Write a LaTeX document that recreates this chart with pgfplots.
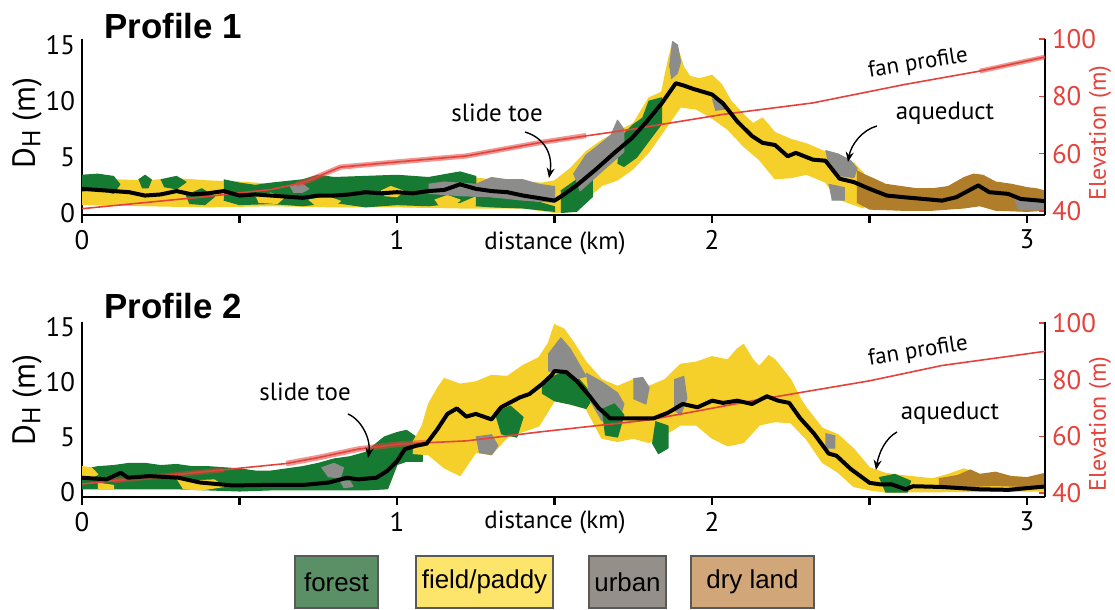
\documentclass[border=0pt]{standalone}
\usepackage{fontspec}
\setmainfont{PT Sans}
\newfontfamily\arial{Liberation Sans}
\usepackage{pgfplots}
\pgfplotsset{compat=1.18}
\usetikzlibrary{arrows.meta}
\definecolor{cgreen}{HTML}{177A32}
\definecolor{cyellow}{HTML}{F6D02A}
\definecolor{cgrey}{HTML}{8C8C8A}
\definecolor{cbrown}{HTML}{B07E2A}
\definecolor{cred}{HTML}{E5423B}
\definecolor{lgreen}{HTML}{5B8F66}
\definecolor{lyellow}{HTML}{FDE46B}
\definecolor{lgrey}{HTML}{948F89}
\definecolor{lbrown}{HTML}{D1A77A}
\pgfplotsset{
  base/.style={scale only axis, width=481.5bp, height=88bp, xmin=0, xmax=3.057, anchor=south west},
  dh/.style={axis x line*=bottom, axis y line*=left,
    x axis line style={-, line width=1.4bp, black}, y axis line style={-, line width=1.4bp, black},
    xtick={0,0.5,...,3}, xticklabels={0,,1,,2,,3}, xtick align=outside,
    major tick length=4bp, xtick style={line width=1.3bp, black},
    ytick={0,5,10,15}, ytick style={draw=none},
    ticklabel style={font=\fontsize{13.5}{13.5}\selectfont},
    /pgf/number format/assume math mode=true},
  elev/.style={axis x line=none, axis y line*=right,
    y axis line style={-, line width=1.4bp, black},
    ytick={40,60,80,100}, ytick align=inside, major tick length=3bp,
    ytick style={cred, line width=0.8bp},
    yticklabel style={cred, font=\fontsize{13.5}{13.5}\selectfont},
    /pgf/number format/assume math mode=true},
  blk/.style={axis lines=none},
  sc/.style={draw=#1, fill=#1, line width=0.6bp, line join=round},
}
\begin{document}
\begin{tikzpicture}
\path[use as bounding box] (0,0) rectangle (557.5bp,305bp);
% ================= PROFILE 1 =================
\begin{axis}[base, dh, at={(41bp,197.5bp)}, ymin=-0.13, ymax=15.54]
% yellow base
\addplot[sc=cyellow] coordinates {(0,3.0)(0.1,3.0)(0.2,2.9)(0.3,3.1)(0.4,2.9)(0.5,2.8)(0.6,2.6)(0.7,2.8)(0.8,3.0)(0.9,3.0)(1.0,3.0)(1.1,3.0)(1.2,3.3)(1.3,3.0)(1.4,2.8)(1.46,2.7)(1.5,2.9)(1.55,4.0)(1.6,5.5)(1.65,6.5)(1.7,7.3)(1.75,8.0)(1.8,10.3)(1.84,10.8)(1.86,13.5)(1.875,15.2)(1.89,14.8)(1.91,13.0)(1.93,12.2)(1.96,12.0)(2.0,12.3)(2.03,11.5)(2.06,10.0)(2.1,8.8)(2.13,8.0)(2.16,8.5)(2.2,7.2)(2.25,6.6)(2.3,6.2)(2.35,5.6)(2.4,5.0)(2.45,4.5)(2.48,3.6)
(2.48,0.5)(2.45,0.8)(2.4,1.3)(2.36,2.8)(2.3,3.5)(2.25,3.2)(2.2,3.1)(2.15,4.8)(2.1,6.0)(2.05,7.5)(2.0,8.5)(1.95,9.3)(1.9,9.5)(1.85,7.5)(1.8,5.5)(1.75,4.0)(1.7,3.0)(1.65,2.5)(1.6,1.3)(1.55,0.2)(1.5,0.1)(1.4,0.5)(1.2,0.5)(1.0,0.6)(0.8,0.6)(0.6,0.7)(0.4,0.6)(0.2,0.7)(0,0.8)};
% green
\addplot[sc=cgreen] coordinates {(0,3.4)(0.05,3.5)(0.1,3.3)(0.12,2.6)(0.1,1.8)(0.05,2.2)(0,2.0)};
\addplot[sc=cgreen] coordinates {(0.18,3.0)(0.2,3.4)(0.22,3.0)(0.21,2.3)(0.19,2.3)};
\addplot[sc=cgreen] coordinates {(0.25,3.0)(0.3,3.3)(0.33,2.8)(0.3,2.2)(0.26,2.4)};
\addplot[sc=cgreen] coordinates {(0.33,1.6)(0.38,2.2)(0.42,1.5)(0.39,0.8)(0.34,0.9)};
\addplot[sc=cgreen] coordinates {(0.45,3.0)(0.5,2.7)(0.55,2.5)(0.6,2.7)(0.7,3.0)(0.75,3.4)(0.8,3.2)(0.9,3.3)(1.0,3.4)(1.1,3.2)(1.2,3.7)(1.25,3.3)(1.25,1.6)(1.2,1.0)(1.1,0.7)(1.0,0.8)(0.9,0.6)(0.8,1.0)(0.7,0.7)(0.6,0.9)(0.5,0.8)(0.45,1.2)};
\addplot[sc=cgreen] coordinates {(1.25,1.5)(1.35,1.3)(1.45,1.0)(1.5,0.6)(1.5,0.2)(1.4,0.5)(1.3,0.6)(1.25,0.7)};
\addplot[sc=cgreen] coordinates {(1.52,2.0)(1.57,3.0)(1.62,3.5)(1.62,1.5)(1.57,0.2)(1.52,0.1)};
\addplot[sc=cgreen] coordinates {(1.7,6.5)(1.75,7.9)(1.78,8.5)(1.8,10.0)(1.84,10.3)(1.84,8.0)(1.8,6.5)(1.76,5.0)(1.72,4.2)(1.7,4.5)};
% yellow flecks
\addplot[sc=cyellow] coordinates {(0.55,1.6)(0.6,1.8)(0.64,1.4)(0.62,0.9)(0.56,1.0)};
\addplot[sc=cyellow] coordinates {(0.72,1.2)(0.78,1.5)(0.82,1.1)(0.8,0.7)(0.74,0.7)};
\addplot[sc=cyellow] coordinates {(0.95,2.0)(0.98,2.4)(1.02,2.0)(1.0,1.5)(0.96,1.6)};
\addplot[sc=cyellow] coordinates {(1.12,1.2)(1.16,1.6)(1.2,1.2)(1.18,0.7)(1.13,0.8)};
% grey
\addplot[sc=cgrey] coordinates {(0.66,2.4)(0.7,2.6)(0.72,2.2)(0.7,1.9)(0.67,1.9)};
\addplot[sc=cgrey] coordinates {(1.1,2.6)(1.15,2.8)(1.25,2.6)(1.3,3.2)(1.35,3.0)(1.4,3.0)(1.45,2.6)(1.5,2.4)(1.5,1.0)(1.4,1.2)(1.3,1.5)(1.2,1.6)(1.1,1.8)};
\addplot[sc=cgrey] coordinates {(1.56,3.5)(1.6,5.2)(1.65,6.3)(1.68,7.0)(1.7,8.3)(1.72,7.5)(1.72,5.5)(1.68,4.5)(1.62,3.0)(1.58,2.0)};
\addplot[sc=cgrey] coordinates {(1.865,13.0)(1.875,15.3)(1.89,15.0)(1.9,13.5)(1.89,12.5)(1.87,12.0)};
\addplot[sc=cgrey] coordinates {(2.0,10.2)(2.03,10.0)(2.04,9.3)(2.01,9.2)};
\addplot[sc=cgrey] coordinates {(2.36,5.6)(2.4,5.3)(2.44,4.7)(2.46,4.0)(2.45,3.2)(2.4,3.4)(2.37,4.3)};
\addplot[sc=cgrey] coordinates {(2.37,2.6)(2.42,2.3)(2.42,1.2)(2.38,1.2)};
% brown
\addplot[sc=cbrown] coordinates {(2.46,3.8)(2.48,3.5)(2.52,3.0)(2.55,2.6)(2.6,2.4)(2.65,2.2)(2.7,2.2)(2.75,2.4)(2.8,3.2)(2.83,3.5)(2.86,3.4)(2.9,2.8)(2.95,2.6)(3.0,2.3)(3.03,2.2)(3.057,2.0)(3.057,0.3)(3.0,0.2)(2.9,0.3)(2.85,0.7)(2.8,0.5)(2.7,0.3)(2.6,0.3)(2.5,0.4)(2.46,1.0)};
\addplot[sc=cgrey] coordinates {(2.96,1.3)(3.057,1.2)(3.057,0.3)(2.97,0.4)};
\end{axis}
\begin{axis}[base, elev, at={(41bp,197.5bp)}, ymin=38.6, ymax=100]
\addplot[cred, line width=2.6bp, opacity=0.55] coordinates {(0.68,49.3)(0.705,50.0)(0.82,55.3)(0.99,57.0)(1.22,59.2)(1.456,63.9)(1.6,66.3)};
\addplot[cred, line width=2.4bp, opacity=0.55] coordinates {(2.85,88.8)(3.057,93.7)};
\addplot[cred, line width=0.8bp] coordinates {(0,40.8)(0.375,44.8)(0.6,47.5)(0.705,50.0)(0.82,55.3)(0.99,57.0)(1.22,59.2)(1.456,63.9)(1.745,68.5)(2.035,73.7)(2.32,77.7)(2.61,84.1)(2.845,88.7)(3.057,93.7)};
\end{axis}
\begin{axis}[base, blk, at={(41bp,197.5bp)}, ymin=-0.13, ymax=15.54]
\addplot[black, line width=2bp, line join=round] coordinates {(0,2.2)(0.05,2.1)(0.1,2.0)(0.15,1.9)(0.2,1.6)(0.25,1.7)(0.3,2.0)(0.35,1.7)(0.4,1.8)(0.45,2.0)(0.5,1.6)(0.55,1.7)(0.6,1.6)(0.65,1.5)(0.7,1.4)(0.75,1.6)(0.8,1.6)(0.85,1.7)(0.9,1.9)(0.95,1.8)(1.0,1.9)(1.05,1.8)(1.1,2.0)(1.15,2.1)(1.2,2.6)(1.25,2.2)(1.3,2.0)(1.35,1.9)(1.4,1.6)(1.456,1.35)(1.5,1.15)(1.525,1.6)(1.57,2.5)(1.63,3.9)(1.69,5.4)(1.745,6.7)(1.79,8.1)(1.84,9.8)(1.885,11.6)(1.91,11.4)(1.94,11.1)(2.0,10.6)(2.035,9.8)(2.08,8.2)(2.127,6.9)(2.16,6.3)(2.2,6.1)(2.24,5.1)(2.266,5.4)(2.32,4.8)(2.36,4.7)(2.405,3.1)(2.45,2.8)(2.5,2.2)(2.555,1.6)(2.61,1.45)(2.67,1.3)(2.73,1.15)(2.775,1.45)(2.845,2.5)(2.88,1.9)(2.94,1.75)(2.98,1.3)(3.04,1.15)(3.057,1.1)};
\end{axis}
% ================= PROFILE 2 =================
\begin{axis}[base, dh, at={(41bp,56.5bp)}, height=87.5bp, ymin=-0.45, ymax=15.45]
\addplot[sc=cgreen] coordinates {(0,2.0)(0.05,2.3)(0.1,2.4)(0.15,2.6)(0.2,2.6)(0.25,2.4)(0.3,2.5)(0.35,2.3)(0.4,2.3)(0.45,2.2)(0.5,2.1)(0.55,1.9)(0.6,1.9)(0.65,2.1)(0.7,2.3)(0.75,2.6)(0.8,3.0)(0.85,3.2)(0.9,3.6)(0.93,4.3)(0.96,5.0)(1.0,5.4)(1.03,5.6)(1.06,5.0)(1.08,4.4)(1.08,2.8)(1.03,2.8)(1.0,2.5)(0.97,0.3)(0.9,0.2)(0.8,0.2)(0.7,0.2)(0.6,0.2)(0.5,0.1)(0.4,0.2)(0.3,0.3)(0.2,0.3)(0.1,0.3)(0,0.3)};
\addplot[sc=cyellow] coordinates {(0,2.3)(0.03,2.2)(0.05,1.6)(0.02,1.2)(0,1.3)};
\addplot[sc=cyellow] coordinates {(0.3,1.2)(0.35,1.0)(0.42,1.1)(0.45,0.5)(0.38,0.2)(0.32,0.3)};
\addplot[sc=cyellow] coordinates {(0.05,0.8)(0.1,0.6)(0.1,0.3)(0.05,0.3)};
\addplot[sc=cgrey] coordinates {(0.76,2.2)(0.8,2.6)(0.83,2.2)(0.82,1.3)(0.78,1.4)};
\addplot[sc=cgrey] coordinates {(0.82,0.9)(0.85,1.0)(0.86,0.5)(0.83,0.4)};
\addplot[sc=cyellow] coordinates {(1.05,4.5)(1.08,6.0)(1.1,8.0)(1.13,9.5)(1.15,10.3)(1.2,9.8)(1.25,10.0)(1.3,10.6)(1.35,10.5)(1.4,11.5)(1.45,12.2)(1.48,13.5)(1.5,15.2)(1.53,14.8)(1.56,13.6)(1.6,11.8)(1.65,10.2)(1.7,9.6)(1.75,10.2)(1.8,9.6)(1.85,10.2)(1.9,11.6)(1.95,11.8)(2.0,12.3)(2.05,12.0)(2.08,13.0)(2.1,13.4)(2.13,12.0)(2.15,11.4)(2.18,12.4)(2.2,12.0)(2.25,10.2)(2.28,8.5)(2.3,7.6)(2.35,5.8)(2.4,5.2)(2.45,3.9)(2.5,2.2)(2.55,1.7)(2.6,1.5)(2.7,1.2)(2.75,1.6)(2.8,2.1)(2.85,1.6)(2.9,1.5)(3.0,1.3)(3.057,1.6)(3.057,0.1)(2.55,0)(2.5,0.2)(2.45,0.5)(2.4,1.8)(2.35,2.7)(2.3,4.8)(2.25,6.3)(2.2,6.4)(2.15,6.1)(2.1,4.5)(2.05,4.2)(2.0,4.9)(1.95,6.1)(1.9,6.1)(1.85,5.2)(1.8,4.5)(1.75,4.9)(1.7,4.6)(1.65,4.9)(1.6,7.6)(1.55,8.0)(1.5,8.3)(1.45,6.0)(1.4,5.5)(1.35,5.0)(1.3,3.4)(1.25,3.6)(1.2,1.5)(1.15,2.2)(1.1,3.4)(1.05,3.5)};
\addplot[sc=cgrey] coordinates {(1.25,5.0)(1.3,5.2)(1.32,4.2)(1.3,3.4)(1.26,3.6)};
\addplot[sc=cgreen] coordinates {(1.31,7.2)(1.36,7.8)(1.4,6.8)(1.38,5.0)(1.33,5.3)};
\addplot[sc=cgreen] coordinates {(1.46,10.0)(1.52,10.8)(1.57,10.5)(1.6,9.5)(1.62,8.5)(1.6,7.6)(1.55,8.0)(1.5,8.3)(1.46,9.0)};
\addplot[sc=cgrey] coordinates {(1.48,12.5)(1.52,14.0)(1.55,13.0)(1.58,11.5)(1.6,10.5)(1.57,10.3)(1.52,11.0)(1.48,11.0)};
\addplot[sc=cgrey] coordinates {(1.6,10.8)(1.65,10.0)(1.7,9.0)(1.72,8.0)(1.7,6.0)(1.65,6.5)(1.61,8.5)};
\addplot[sc=cgreen] coordinates {(1.65,7.5)(1.69,8.0)(1.72,7.0)(1.7,5.0)(1.66,5.2)};
\addplot[sc=cgrey] coordinates {(1.75,10.3)(1.78,10.4)(1.8,9.5)(1.79,8.0)(1.75,8.5)};
\addplot[sc=cgreen] coordinates {(1.82,6.4)(1.86,6.0)(1.86,4.0)(1.83,3.5)(1.81,4.5)};
\addplot[sc=cgrey] coordinates {(1.88,10.2)(1.91,10.5)(1.92,8.5)(1.9,7.0)(1.88,7.5)};
\addplot[sc=cgrey] coordinates {(2.36,5.3)(2.39,5.1)(2.39,4.0)(2.36,4.0)};
\addplot[sc=cgreen] coordinates {(2.53,1.3)(2.58,1.6)(2.63,1.0)(2.62,0)(2.55,0)};
\addplot[sc=cbrown] coordinates {(2.72,1.2)(2.78,1.5)(2.82,2.0)(2.85,1.6)(2.9,1.8)(2.95,1.4)(3.0,1.3)(3.057,1.7)(3.057,0.6)(3.0,0.5)(2.9,0.6)(2.8,0.5)(2.72,0.4)};
\end{axis}
\begin{axis}[base, elev, at={(41bp,56.5bp)}, height=87.5bp, ymin=38.6, ymax=100.35]
\addplot[cred, line width=2.4bp, opacity=0.5] coordinates {(0.1,44.3)(0.306,46.6)(0.45,48.2)};
\addplot[cred, line width=2.8bp, opacity=0.55] coordinates {(0.648,50.4)(0.75,52.5)(0.877,55.5)(1.01,57.3)(1.1,57.8)};
\addplot[cred, line width=0.8bp] coordinates {(0,43.2)(0.306,46.6)(0.648,50.4)(0.75,52.5)(0.877,55.5)(1.01,57.3)(1.22,58.4)(1.456,61.6)(1.8,65.8)(2.15,73.0)(2.5,79.6)(2.73,85.0)(3.057,90.0)};
\end{axis}
\begin{axis}[base, blk, at={(41bp,56.5bp)}, height=87.5bp, ymin=-0.45, ymax=15.45]
\addplot[black, line width=2bp, line join=round] coordinates {(0,1.3)(0.078,1.15)(0.123,1.75)(0.146,1.3)(0.215,1.45)(0.306,1.3)(0.374,0.87)(0.477,0.6)(0.59,0.65)(0.705,0.65)(0.785,0.87)(0.84,1.3)(0.877,1.15)(0.934,1.3)(0.968,1.9)(1.0,2.8)(1.025,3.9)(1.06,4.2)(1.094,4.4)(1.128,5.7)(1.16,7.1)(1.19,7.6)(1.22,6.85)(1.25,7.1)(1.3,6.6)(1.33,7.7)(1.39,8.6)(1.42,8.9)(1.46,9.8)(1.49,10.6)(1.5,11.0)(1.537,10.9)(1.57,10.1)(1.606,8.9)(1.64,7.65)(1.676,6.7)(1.71,6.7)(1.757,6.7)(1.815,6.7)(1.86,7.2)(1.907,8.0)(1.954,7.7)(2.0,8.3)(2.035,8.1)(2.08,8.3)(2.127,8.0)(2.174,8.7)(2.21,8.3)(2.245,8.1)(2.28,6.7)(2.324,5.3)(2.37,3.5)(2.395,3.3)(2.44,2.1)(2.5,0.84)(2.533,0.7)(2.57,0.7)(2.615,0.25)(2.638,0.53)(2.73,0.46)(2.85,0.25)(2.94,0.2)(3.04,0.46)(3.057,0.5)};
\end{axis}
% ================= ANNOTATIONS =================
\begin{scope}[yshift=305bp, x=0.5bp, y=-0.5bp]
\node[font=\arial\bfseries\fontsize{17.5}{17.5}\selectfont, anchor=west, inner sep=0] at (104,26) {Profile 1};
\node[font=\arial\bfseries\fontsize{17.5}{17.5}\selectfont, anchor=west, inner sep=0] at (104,306) {Profile 2};
\node[rotate=90, font=\fontsize{16}{16}\selectfont] at (27,123) {D\raisebox{-0.35ex}{\fontsize{13}{13}\selectfont H} (m)};
\node[rotate=90, font=\fontsize{16}{16}\selectfont] at (27,400) {D\raisebox{-0.35ex}{\fontsize{13}{13}\selectfont H} (m)};
\node[rotate=90, text=cred, font=\fontsize{12}{12}\selectfont] at (1100,133) {Elevation (m)};
\node[rotate=90, text=cred, font=\fontsize{12}{12}\selectfont] at (1100,424) {Elevation (m)};
\node[font=\fontsize{12.5}{12.5}\selectfont] at (555,243) {distance (km)};
\node[font=\fontsize{12.5}{12.5}\selectfont] at (555,522) {distance (km)};
\node[font=\fontsize{12.5}{12.5}\selectfont] at (497,113) {slide toe};
\node[font=\fontsize{12.5}{12.5}\selectfont] at (305,392) {slide toe};
\node[font=\fontsize{12.5}{12.5}\selectfont] at (945,113) {aqueduct};
\node[font=\fontsize{12.5}{12.5}\selectfont] at (950,413) {aqueduct};
\node[rotate=9, font=\fontsize{11.5}{11.5}\selectfont] at (918,64) {fan profile};
\node[rotate=9, font=\fontsize{11.5}{11.5}\selectfont] at (918,352) {fan profile};
\draw[line width=0.7bp, -{Stealth[length=5bp,width=4bp]}] (525,132) .. controls (545,138) and (553,155) .. (549,178);
\draw[line width=0.7bp, -{Stealth[length=5bp,width=4bp]}] (877,126) .. controls (862,130) and (851,145) .. (848,162);
\draw[line width=0.7bp, -{Stealth[length=5bp,width=4bp]}] (348,414) .. controls (362,420) and (371,440) .. (368,458);
\draw[line width=0.7bp, -{Stealth[length=5bp,width=4bp]}] (897,432) .. controls (886,438) and (879,452) .. (876,470);
\tikzset{leg/.style={draw=black!65, line width=0.6bp, minimum height=26bp, inner sep=0, font=\arial\fontsize{13}{13}\selectfont}}
\node[leg, fill=lgreen, minimum width=41.5bp] at (336.5,582) {forest};
\node[leg, fill=lyellow, minimum width=68.5bp] at (484.5,582) {field/paddy};
\node[leg, fill=lgrey, minimum width=38.5bp] at (627.5,582) {urban};
\node[leg, fill=lbrown, minimum width=61.5bp] at (752.5,582) {dry land};
\end{scope}
\end{tikzpicture}
\end{document}
